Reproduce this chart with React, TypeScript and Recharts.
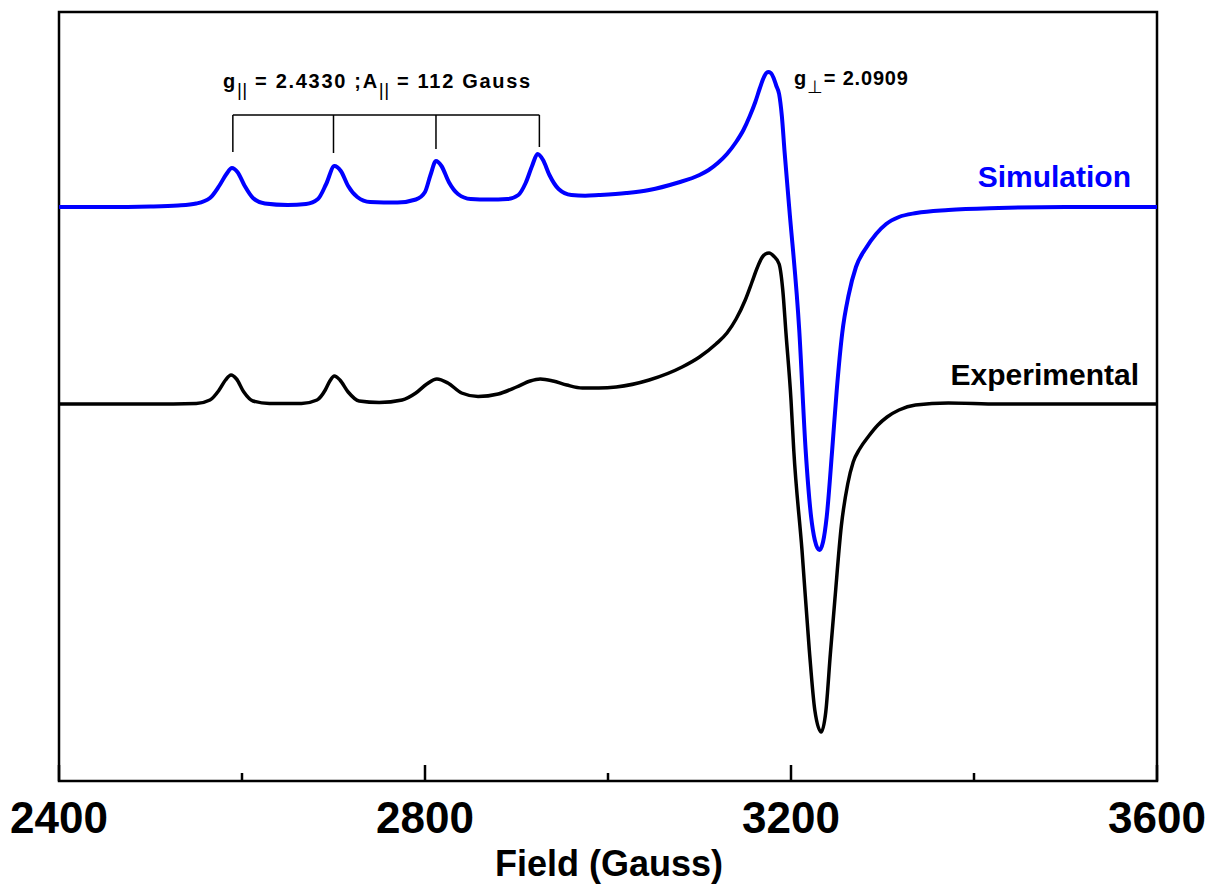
import { LineChart, Line, XAxis, YAxis, ReferenceLine, ReferenceArea } from 'recharts';

// EPR spectrum (intensity in arbitrary units, experimental baseline = 0)
const simField = [
  2400, 2450, 2500, 2530, 2550, 2565, 2575, 2583, 2589, 2595, 2603, 2612, 2625, 2650, 2670, 2683,
  2692, 2701, 2708, 2716, 2726, 2740, 2770, 2790, 2800, 2806, 2812, 2818, 2826, 2836, 2850, 2870,
  2890, 2902, 2910, 2917, 2923, 2929, 2936, 2946, 2960, 2975, 2990, 3020, 3045, 3075, 3100, 3110,
  3120, 3130, 3140, 3148, 3155, 3161, 3166, 3170, 3173, 3175, 3178, 3181, 3184, 3187, 3190, 3193,
  3198, 3209, 3216, 3222, 3226, 3231, 3235, 3239, 3245, 3250, 3256, 3263, 3271, 3282, 3293, 3304,
  3318, 3337, 3372, 3427, 3500, 3600,
];
const simSignal = [
  197, 197, 197.5, 198.5, 200.5, 206, 218, 230, 236, 232, 218, 206, 200.5, 199, 200, 205,
  220, 238, 233, 218, 207, 202, 201.5, 204.5, 212, 229, 243, 238, 222, 210, 205, 204.5,
  205, 209, 221, 238, 250, 244, 229, 215, 209, 208.3, 209, 211, 214, 221, 229, 234,
  241, 250, 262, 274, 288, 302, 316, 326, 331, 332, 331, 326, 318, 310, 288, 252,
  197, 74, -46, -113, -136, -146, -138, -113, -46, 14, 71, 109, 137, 156, 170, 180,
  187, 191, 194, 196, 197, 197,
];

const expField = [
  2400, 2500, 2550, 2565, 2575, 2582, 2588, 2594, 2602, 2612, 2630, 2665, 2682, 2691, 2696, 2701,
  2707, 2716, 2728, 2750, 2775, 2790, 2802, 2813, 2825, 2840, 2858, 2880, 2900, 2915, 2926, 2940,
  2955, 2972, 2990, 3009, 3045, 3081, 3100, 3118, 3130, 3140, 3150, 3157, 3163, 3168, 3172, 3176,
  3181, 3187, 3191, 3194.5, 3200, 3203, 3212, 3220, 3226, 3233, 3238, 3243, 3248, 3255, 3262, 3268,
  3275, 3285, 3295, 3305, 3318, 3336, 3372, 3427, 3500, 3600,
];
const expSignal = [
  0, 0, 0.5, 4, 14, 24, 29, 25, 12, 3, 0.5, 0.5, 4, 14, 23, 28,
  24, 12, 3, 1.5, 4, 11, 20, 25, 21, 11, 7.5, 10, 17, 23, 25, 23,
  19, 16, 16, 17, 24, 37, 47, 60, 71, 85, 104, 121, 136, 146, 150, 151,
  148, 140, 114, 71, 4, -46, -146, -246, -306, -328, -308, -250, -195, -122, -80, -58,
  -45, -32, -21, -13, -6, -1, 1, 0, 0, 0,
];

// hyperfine bracket over the parallel lines
const bracketField = [2590, 2700, 2812, 2925];
const bracketBottom = [252, 251, 255, 257];
const bracketTop = 289;

const majorTicks = [2400, 2800, 3200, 3600];
const allTicks = [2400, 2600, 2800, 3000, 3200, 3400, 3600];

const simData = simField.map((f, i) => ({ field: f, signal: simSignal[i] }));
const expData = expField.map((f, i) => ({ field: f, signal: expSignal[i] }));

const FONT = '"Liberation Sans", Arial, Helvetica, sans-serif';

const FieldTick = ({ x, y, payload }: any) => {
  const major = majorTicks.includes(payload.value);
  return (
    <g>
      <line x1={x} y1={y} x2={x} y2={y - (major ? 16 : 8)} stroke="#000" strokeWidth={2.5} />
      {major && (
        <text x={x} y={y + 52} textAnchor="middle" fontSize={44} fontWeight="bold" fontFamily={FONT} fill="#000">
          {payload.value}
        </text>
      )}
    </g>
  );
};

export default function App() {
  return (
    <div style={{ position: 'absolute', left: 0, top: 0, width: 1209, height: 886, background: '#fff' }}>
      <LineChart width={1209} height={886} margin={{ top: 12, right: 52, left: 59, bottom: 0 }}>
        <XAxis
          dataKey="field"
          type="number"
          domain={[2400, 3600]}
          ticks={allTicks}
          interval={0}
          allowDuplicatedCategory={false}
          height={105}
          tickSize={0}
          tickMargin={0}
          tickLine={false}
          axisLine={false}
          tick={<FieldTick />}
        />
        <YAxis hide type="number" domain={[-377, 392]} allowDataOverflow />
        <ReferenceArea x1={2400} x2={3600} y1={-377} y2={392} fill="none" fillOpacity={0} stroke="#000" strokeWidth={2.5} />
        <ReferenceLine
          segment={[{ x: bracketField[0], y: bracketTop }, { x: bracketField[bracketField.length - 1], y: bracketTop }]}
          stroke="#000"
          strokeWidth={1.5}
        />
        {bracketField.map((f, i) => (
          <ReferenceLine
            key={f}
            segment={[{ x: f, y: bracketTop }, { x: f, y: bracketBottom[i] }]}
            stroke="#000"
            strokeWidth={1.5}
          />
        ))}
        <Line data={simData} dataKey="signal" type="monotone" stroke="#0000ff" strokeWidth={4} dot={false} isAnimationActive={false} />
        <Line data={expData} dataKey="signal" type="monotone" stroke="#000" strokeWidth={3.5} dot={false} isAnimationActive={false} />
      </LineChart>
      <svg width={1209} height={886} style={{ position: 'absolute', left: 0, top: 0, pointerEvents: 'none' }}>
        <g fontFamily={FONT} fontWeight="bold" fill="#000">
          <text x={223} y={88} fontSize={20} letterSpacing={1.7}>
            g
            <tspan fontSize={19} fontWeight="normal" dy={8} letterSpacing={0.5}>||</tspan>
            <tspan dy={-8}> = 2.4330 ;A</tspan>
            <tspan fontSize={19} fontWeight="normal" dy={8} letterSpacing={0.5}>||</tspan>
            <tspan dy={-8}> = 112 Gauss</tspan>
          </text>
          <text x={794} y={85} fontSize={20} letterSpacing={0.8}>
            g
            <tspan fontSize={18} fontWeight="normal" dy={8}>⊥</tspan>
            <tspan dy={-8}>= 2.0909</tspan>
          </text>
          <text x={1131} y={187} fontSize={30} textAnchor="end" fill="#0000ff">Simulation</text>
          <text x={1139} y={385} fontSize={30} textAnchor="end">Experimental</text>
          <text x={609} y={876} fontSize={36} textAnchor="middle">Field (Gauss)</text>
        </g>
      </svg>
    </div>
  );
}
